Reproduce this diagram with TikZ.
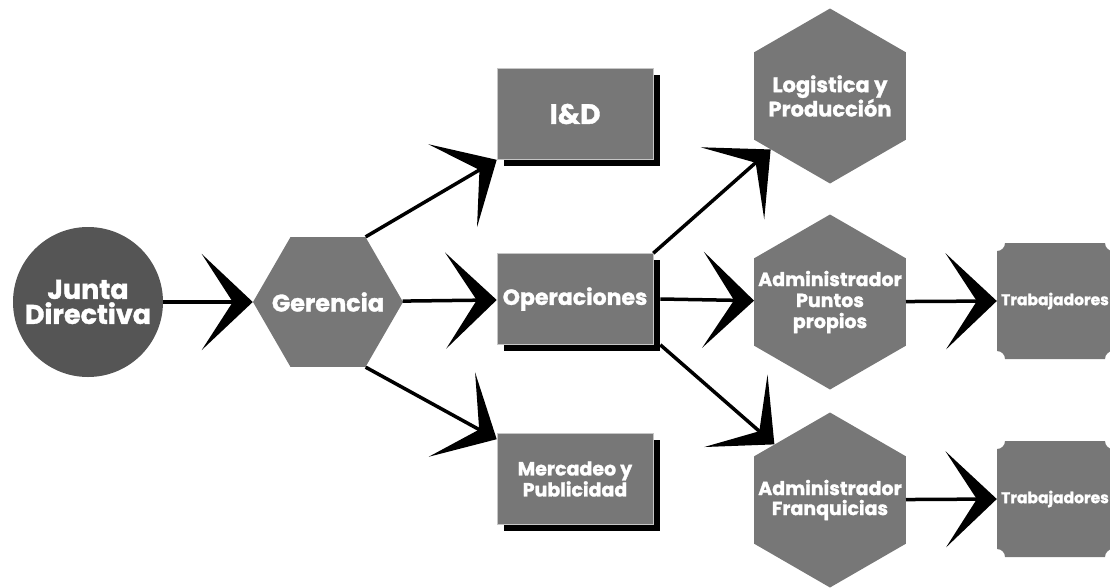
\documentclass[tikz,border=0pt]{standalone}
\usepackage{fontspec}
\setmainfont{Poppins}[BoldFeatures={FakeBold=1.3}]
\usetikzlibrary{positioning,shapes.geometric,shadows,arrows.meta}
\definecolor{boxgrey}{RGB}{119,119,119}
\definecolor{circgrey}{RGB}{85,85,85}

\begin{document}
\begin{tikzpicture}[x=1pt, y=-1pt,
  txt/.style={text=white, align=center},
  sz/.style 2 args={font=\bfseries\fontsize{#1}{#2}\selectfont},
  hexa/.style={regular polygon, regular polygon sides=6, fill=boxgrey, inner sep=0pt},
  dept/.style={rectangle, fill=boxgrey, draw=gray!45, line width=0.6pt, minimum width=156pt, minimum height=91pt, general shadow={fill=black, shadow xshift=7pt, shadow yshift=-6pt}},
  flecha/.style={line width=3.5pt, -{Stealth[length=51pt, width=96pt, inset=31pt]}}]
  \useasboundingbox (0,0) rectangle (1110,587);
  % nodos
  \node (junta) at (88,302) [circle, fill=circgrey, minimum size=150pt, txt, sz={27}{25}] {Junta\\Directiva};
  \node (ger) at (328,302) [hexa, minimum size=150pt, label={[txt, sz={24}{26}]center:Gerencia}] {};
  \node (idd) at (575,114) [dept, txt, sz={28}{30}] {I\&D};
  \node (oper) at (575,299) [dept, txt, sz={22}{24}] {Operaciones};
  \node (merc) at (575,479) [dept, txt, sz={19}{21}] {Mercadeo y\\Publicidad};
  \node (log) at (830,96) [hexa, minimum size=175pt, shape border rotate=90, label={[txt, sz={21}{22}]center:{Logistica y\\Producción}}] {};
  \node (pun) at (830,302) [hexa, minimum size=175pt, shape border rotate=90, label={[txt, sz={19}{21}]center:{Administrador\\Puntos\\propios}}] {};
  \node (fra) at (830,500) [hexa, minimum size=175pt, shape border rotate=90, label={[txt, sz={19}{20}]center:{Administrador\\Franquicias}}] {};
  \coordinate (trab1) at (1055,301);
  \coordinate (trab2) at (1055,499);
  % cajas con esquinas recortadas
  \foreach \t in {trab1,trab2}
    \fill[boxgrey] ([shift={(-58pt,50pt)}]\t) arc[start angle=-90, end angle=0, radius=8pt]
      -- ([shift={(50pt,58pt)}]\t) arc[start angle=180, end angle=270, radius=8pt]
      -- ([shift={(58pt,-50pt)}]\t) arc[start angle=90, end angle=180, radius=8pt]
      -- ([shift={(-50pt,-58pt)}]\t) arc[start angle=0, end angle=90, radius=8pt] -- cycle;
  \node (tra1) at (trab1) [minimum size=116pt, inner sep=0pt, txt, sz={15.5}{18}] {Trabajadores};
  \node (tra2) at (trab2) [minimum size=116pt, inner sep=0pt, txt, sz={15.5}{18}] {Trabajadores};
  % flechas
  \draw[flecha] (junta) -- (ger);
  \draw[flecha] (ger.60) -- (idd.south west);
  \draw[flecha] (ger) -- (oper);
  \draw[flecha] (ger.-60) -- ([yshift=-6pt]merc.north west);
  \draw[flecha] (oper.north east) -- (log.222);
  \draw[flecha] ([xshift=7pt]oper.east) -- (pun);
  \draw[flecha] ([xshift=7pt]oper.south east) -- (fra.135);
  \draw[flecha] (pun) -- (tra1.west);
  \draw[flecha] (fra) -- (tra2.west);
\end{tikzpicture}
\end{document}
